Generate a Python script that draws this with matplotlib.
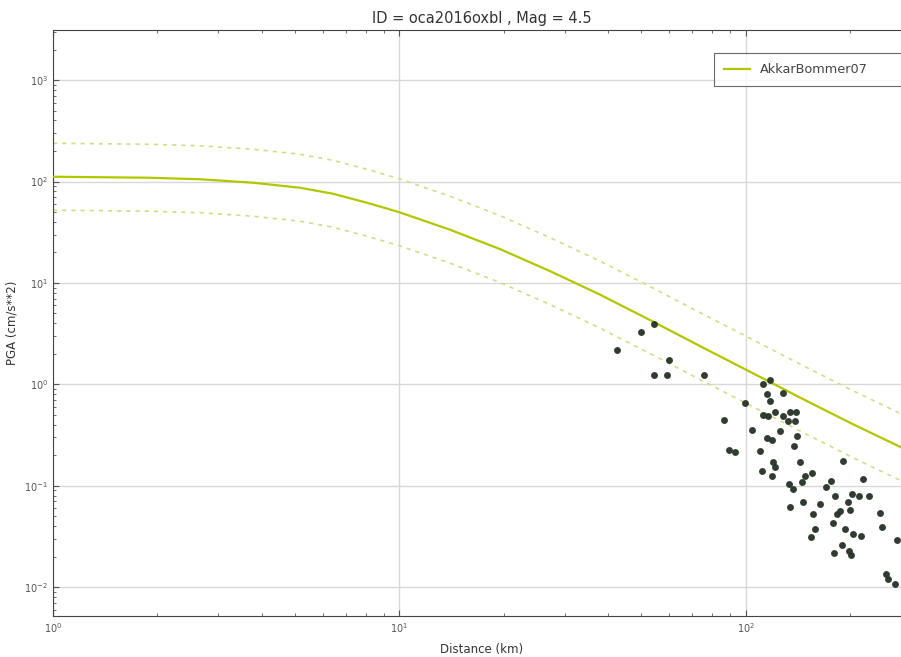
import matplotlib
matplotlib.use("Agg")
import matplotlib.pyplot as plt
import numpy as np

title = "ID = oca2016oxbl , Mag = 4.5"
model_name = "AkkarBommer07"

# GMPE median curve (distance km, PGA cm/s^2)
curve_dist = [1.0, 1.9, 2.66, 3.78, 5.16, 6.43, 8.06, 10.0, 14.0, 19.5, 27.2,
              37.9, 53.9, 73.7, 115.0, 143.0, 200.0, 300.0]
curve_median = [111.5, 109.0, 105.3, 97.3, 86.9, 75.8, 61.8, 49.8, 33.5, 21.6,
                13.1, 7.69, 4.17, 2.39, 1.095, 0.745, 0.418, 0.215]
sigma_log10 = 0.33  # +/- one sigma band (decades)

# Observed records
obs_dist = [42.4, 49.8, 54.3, 60.0, 54.3, 59.2, 75.6, 112.0, 117.3, 127.9,
            115.0, 117.3, 99.3, 86.4, 112.0, 115.7, 121.3, 127.9, 134.0, 139.4,
            132.2, 138.5, 104.1, 125.4, 140.4, 115.0, 118.9, 137.6, 89.3, 92.9,
            109.7, 119.7, 121.3, 143.1, 111.2, 118.9, 148.0, 155.1, 190.5, 145.0,
            175.9, 170.2, 217.6, 180.6, 202.2, 211.9, 226.5, 197.0, 146.0, 163.6,
            199.6, 186.7, 183.0, 156.1, 243.6, 133.1, 136.6, 134.0, 158.2, 154.0,
            178.3, 246.9, 193.1, 203.6, 214.7, 272.8, 189.3, 198.3, 200.9, 179.5,
            253.5, 256.9, 269.2]
obs_pga = [2.16, 3.25, 3.98, 1.72, 1.25, 1.23, 1.25, 1.0, 1.095, 0.815,
           0.797, 0.680, 0.650, 0.442, 0.495, 0.484, 0.530, 0.484, 0.530, 0.530,
           0.432, 0.432, 0.3525, 0.3446, 0.3077, 0.294, 0.281, 0.2454, 0.224, 0.214,
           0.219, 0.1707, 0.1524, 0.1707, 0.1392, 0.1243, 0.1243, 0.133, 0.1746, 0.1085,
           0.111, 0.0969, 0.1161, 0.0790, 0.0827, 0.0790, 0.0790, 0.0690, 0.0690, 0.0659,
           0.0575, 0.0562, 0.0525, 0.0525, 0.0537, 0.1037, 0.0926, 0.0616, 0.0374, 0.0312,
           0.0428, 0.0391, 0.0374, 0.0334, 0.0319, 0.0291, 0.0260, 0.0227, 0.0207, 0.0217,
           0.0135, 0.0120, 0.01075]

xlim = (1.0, 300.0)
ylim = (0.0052, 3120.0)

fig = plt.figure(figsize=(9.01, 6.57), dpi=100)
ax = fig.add_axes([53 / 901, 41 / 657, 858 / 901, 586 / 657])

med = np.array(curve_median)
line_col = "#b2c700"
band_col = "#d2de86"
ax.plot(curve_dist, med, color=line_col, lw=1.6, label=model_name, zorder=3)
ax.plot(curve_dist, med * 10 ** sigma_log10, color=band_col, lw=1.2,
        ls=(0, (2.5, 3)), zorder=2)
ax.plot(curve_dist, med * 10 ** (-sigma_log10), color=band_col, lw=1.2,
        ls=(0, (2.5, 3)), zorder=2)
ax.plot(obs_dist, obs_pga, linestyle="none", marker="o", markersize=4.0,
        color="#1e261e", markeredgecolor="#2a3a2a", alpha=0.9, zorder=4)

ax.set_xscale("log")
ax.set_yscale("log")
ax.set_xlim(*xlim)
ax.set_ylim(*ylim)

ax.grid(True, which="major", color="#d8d8d8", lw=1.0, ls="-")
ax.set_axisbelow(True)
ax.tick_params(which="both", direction="in", top=True, right=True,
               labelsize=7, colors="#555555")
ax.tick_params(which="major", length=4)
ax.tick_params(which="minor", length=2)
for s in ax.spines.values():
    s.set_color("#444444")

ax.set_title(title, fontsize=10.5, color="#333333", pad=5)
ax.set_xlabel("Distance (km)", fontsize=8.5, color="#333333", labelpad=6)
ax.set_ylabel("PGA (cm/s**2)", fontsize=8.5, color="#333333", labelpad=4)

leg = ax.legend(loc="upper left", bbox_to_anchor=(0.763, 0.971, 0.238, 0.0),
                mode="expand", fontsize=9.3, frameon=True, fancybox=False,
                handlelength=2.0, borderpad=0.75)
leg.get_frame().set_edgecolor("#444444")
leg.get_frame().set_linewidth(0.8)
for t in leg.get_texts():
    t.set_color("#444444")

fig.savefig("out.png", dpi=100)
